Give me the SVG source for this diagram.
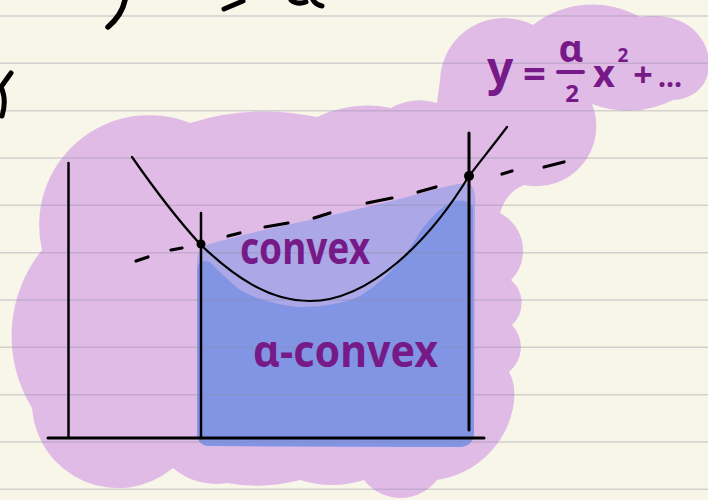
<svg xmlns="http://www.w3.org/2000/svg" width="708" height="500" viewBox="0 0 708 500">
<style>
.ink{fill:none;stroke:#000;stroke-linecap:round;stroke-linejoin:round}
.dash{fill:none;stroke:#000;stroke-width:3.2;stroke-linecap:round}
.rule{stroke:#8c8ca0;stroke-opacity:0.35;stroke-width:1.6}
.hand{fill:#761a88;font-family:"Noto Sans","DejaVu Sans",sans-serif;font-weight:bold}
</style>
<rect x="0" y="0" width="708" height="500" fill="#f8f6e8"/>
<g id="highlight">
<path fill="#e0bbe6" d="M 42,250 A 110 110 0 0 1 190,123 A 250 250 0 0 1 317,117 A 120 120 0 0 1 391,108 A 60 60 0 0 1 437,103 L 440,80 A 64 64 0 0 1 533,25 A 97 97 0 0 1 640,17 C 720,5 730,98 673,100 A 100 100 0 0 1 592,104 A 60 60 0 0 1 524,185 Q 506,192 500,213 A 42 42 0 0 1 511,280 A 30 30 0 0 1 512,325 A 32 32 0 0 1 509,372 C 526,400 503,470 437,480 A 46 46 0 0 1 364,480 A 105 105 0 0 1 300,480 A 170 170 0 0 1 227,483 A 65 65 0 0 1 173,468 A 86 86 0 0 1 32,408 A 137 137 0 0 1 42,250 Z"/>
</g>
<g id="convex-region">
<path fill="#aca7e7" d="M 197,262 Q 198,247 206,245 Q 230,238 260,231 L 300,222 Q 380,205 440,188 Q 462,182 470,184 Q 476,188 475,205 L 474,432 Q 474,447 458,447 L 212,446 Q 197,446 197,432 Z"/>
</g>
<g id="alpha-convex-region">
<path fill="#8295e5" d="M 197,270 Q 198,258 210,262 Q 225,278 240,290 Q 265,304 300,307 Q 335,307 360,296 Q 395,275 420,232 Q 440,205 455,201 Q 468,199 473,207 L 474,432 Q 474,447 458,447 L 210,446 Q 197,446 197,432 Z"/>
</g>
<g id="ruled-lines">
<line class="rule" x1="0" y1="16" x2="708" y2="16"/>
<line class="rule" x1="0" y1="63.3" x2="708" y2="63.3"/>
<line class="rule" x1="0" y1="110.7" x2="708" y2="110.7"/>
<line class="rule" x1="0" y1="158" x2="708" y2="158"/>
<line class="rule" x1="0" y1="205.3" x2="708" y2="205.3"/>
<line class="rule" x1="0" y1="252.7" x2="708" y2="252.7"/>
<line class="rule" x1="0" y1="300" x2="708" y2="300"/>
<line class="rule" x1="0" y1="347.3" x2="708" y2="347.3"/>
<line class="rule" x1="0" y1="394.7" x2="708" y2="394.7"/>
<line class="rule" x1="0" y1="442" x2="708" y2="442"/>
<line class="rule" x1="0" y1="489.3" x2="708" y2="489.3"/>
</g>
<g id="fragments">
<path class="ink" stroke-width="5.5" d="M 125,0 Q 122,15 108,27"/>
<path class="ink" stroke-width="5" d="M 224,9 L 243,1"/>
<path class="ink" stroke-width="5" d="M 291,0 Q 297,5 306,2 M 313,0 Q 316,5 322,6"/>
<path class="ink" stroke-width="5" d="M 11,73 L 1,87 Q 7,100 2,116"/>
</g>
<g id="axes">
<line class="ink" stroke-width="2.5" x1="68.5" y1="163" x2="68.5" y2="437"/>
<line class="ink" stroke-width="3" x1="48" y1="438" x2="484" y2="438"/>
</g>
<g id="verticals">
<line class="ink" stroke-width="2.5" x1="201" y1="213" x2="201" y2="438"/>
<line class="ink" stroke-width="3" x1="469" y1="133" x2="469" y2="430"/>
</g>
<g id="connectors">
<path class="ink" stroke-width="2.2" d="M 132,157 C 155,190 178,220 200,244 C 232,275 268,301 310,301 C 370,301 430,240 469,176 C 482,159 495,143 507,127"/>
<g id="secant">
<line class="dash" x1="136" y1="261" x2="148" y2="257"/>
<line class="dash" x1="171" y1="250" x2="182" y2="248"/>
<line class="dash" x1="228" y1="236" x2="240" y2="233"/>
<line class="dash" x1="265" y1="227" x2="288" y2="223"/>
<line class="dash" x1="314" y1="218" x2="330" y2="213"/>
<line class="dash" x1="367" y1="203" x2="392" y2="198"/>
<line class="dash" x1="418" y1="192" x2="436" y2="187"/>
<line class="dash" x1="502" y1="174" x2="512" y2="171"/>
<line class="dash" x1="544" y1="167" x2="564" y2="162"/>
</g>
</g>
<g id="point-left"><circle cx="201" cy="244" r="4.5" fill="#000"/></g>
<g id="point-right"><circle cx="469" cy="176" r="5" fill="#000"/></g>
<g id="label-convex">
<text class="hand" x="240" y="264" font-size="44" textLength="130" lengthAdjust="spacingAndGlyphs">convex</text>
</g>
<g id="label-alpha-convex">
<text class="hand" x="253" y="367" font-size="44" textLength="185" lengthAdjust="spacingAndGlyphs">α-convex</text>
</g>
<g id="equation">
<text class="hand" x="487" y="85" font-size="46">y</text>
<text class="hand" x="523" y="88" font-size="40">=</text>
<text class="hand" x="571" y="62" font-size="38" text-anchor="middle">α</text>
<line x1="558" y1="72" x2="583" y2="72" stroke="#761a88" stroke-width="4" stroke-linecap="round"/>
<text class="hand" x="572" y="102" font-size="24" text-anchor="middle">2</text>
<text class="hand" x="604" y="87" font-size="38" text-anchor="middle">x</text>
<text class="hand" x="623" y="62" font-size="19" text-anchor="middle">2</text>
<text class="hand" x="643" y="87" font-size="34" text-anchor="middle">+</text>
<text class="hand" x="658" y="87" font-size="30" textLength="24" lengthAdjust="spacingAndGlyphs">...</text>
</g>
</svg>
